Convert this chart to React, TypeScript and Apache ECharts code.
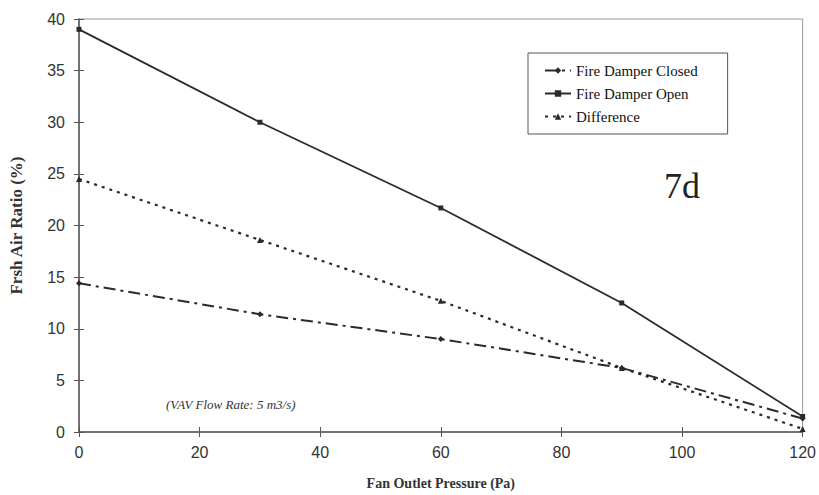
import React, { useEffect, useRef } from "react";
import * as echarts from "echarts";

const pressures = [0, 30, 60, 90, 120];
const damperClosed = [14.4, 11.4, 9.0, 6.2, 1.3];
const damperOpen = [39.0, 30.0, 21.7, 12.5, 1.5];
const difference = [24.5, 18.6, 12.7, 6.2, 0.3];
const seriesNames = ["Fire Damper Closed", "Fire Damper Open", "Difference"];

export default function App() {
  const ref = useRef<HTMLDivElement>(null);
  useEffect(() => {
    if (!ref.current) return;
    const chart = echarts.init(ref.current, null, { renderer: "svg" });
    const toPairs = (v: number[]) => pressures.map((p, i) => [p, v[i]]);
    const lineColor = "#2a2a2a";
    const serif = "'Liberation Serif', 'Times New Roman', serif";
    const sans = "'Liberation Sans', Arial, sans-serif";
    chart.setOption({
      animation: false,
      backgroundColor: "#fff",
      grid: {
        left: 77,
        right: 13,
        top: 19,
        bottom: 62,
        show: true,
        borderColor: "#999",
        borderWidth: 1,
      },
      legend: {
        orient: "vertical",
        left: 528,
        top: 53,
        width: 190,
        padding: [10, 30, 10, 16],
        itemGap: 8,
        itemWidth: 26,
        itemHeight: 8,
        backgroundColor: "#fff",
        borderColor: "#555",
        borderWidth: 1,
        data: seriesNames,
        textStyle: { fontFamily: serif, fontSize: 15, color: "#111" },
      },
      xAxis: [
        {
          type: "value",
          min: 0,
          max: 120,
          interval: 20,
          name: "Fan Outlet Pressure (Pa)",
          nameLocation: "middle",
          nameGap: 44,
          nameTextStyle: { fontFamily: serif, fontSize: 14, fontWeight: "bold", color: "#333" },
          axisLine: { lineStyle: { color: "#555", width: 1.5 } },
          axisTick: { show: true, length: 5, lineStyle: { color: "#555" } },
          axisLabel: { fontFamily: sans, fontSize: 16, color: "#333", margin: 12 },
          splitLine: { show: false },
        },
        {
          type: "value",
          min: 0,
          max: 120,
          interval: 20,
          position: "bottom",
          axisLine: { show: false },
          axisTick: { show: true, inside: true, length: 5, lineStyle: { color: "#555" } },
          axisLabel: { show: false },
          splitLine: { show: false },
        },
      ],
      yAxis: [
        {
          type: "value",
          min: 0,
          max: 40,
          interval: 5,
          name: "Frsh Air Ratio (%)",
          nameLocation: "middle",
          nameGap: 54,
          nameTextStyle: { fontFamily: serif, fontSize: 17, fontWeight: "bold", color: "#333" },
          axisLine: { show: true, lineStyle: { color: "#555", width: 1.5 } },
          axisTick: { show: true, length: 5, lineStyle: { color: "#555" } },
          axisLabel: { fontFamily: sans, fontSize: 16, color: "#333", margin: 14 },
          splitLine: { show: false },
        },
        {
          type: "value",
          min: 0,
          max: 40,
          interval: 5,
          position: "left",
          axisLine: { show: false },
          axisTick: { show: true, inside: true, length: 5, lineStyle: { color: "#555" } },
          axisLabel: { show: false },
          splitLine: { show: false },
        },
      ],
      graphic: [
        {
          type: "text",
          left: 664,
          top: 168,
          style: { text: "7d", fontFamily: serif, fontSize: 36, fill: "#222" },
        },
        {
          type: "text",
          left: 166,
          top: 398,
          style: {
            text: "(VAV Flow Rate: 5 m3/s)",
            fontFamily: serif,
            fontStyle: "italic",
            fontSize: 13,
            fill: "#333",
          },
        },
      ],
      series: [
        {
          name: seriesNames[0],
          type: "line",
          data: toPairs(damperClosed),
          symbol: "diamond",
          symbolSize: 6,
          itemStyle: { color: lineColor },
          lineStyle: { color: lineColor, width: 2, type: [12, 5, 3, 5] },
        },
        {
          name: seriesNames[1],
          type: "line",
          data: toPairs(damperOpen),
          symbol: "rect",
          symbolSize: 5,
          itemStyle: { color: lineColor },
          lineStyle: { color: lineColor, width: 1.8, type: "solid" },
        },
        {
          name: seriesNames[2],
          type: "line",
          data: toPairs(difference),
          symbol: "triangle",
          symbolSize: 6,
          itemStyle: { color: lineColor },
          lineStyle: { color: lineColor, width: 2.2, type: [3, 5] },
        },
      ],
    });
    return () => chart.dispose();
  }, []);
  return <div ref={ref} style={{ width: 819, height: 495, position: "absolute", left: 0, top: 0 }} />;
}
